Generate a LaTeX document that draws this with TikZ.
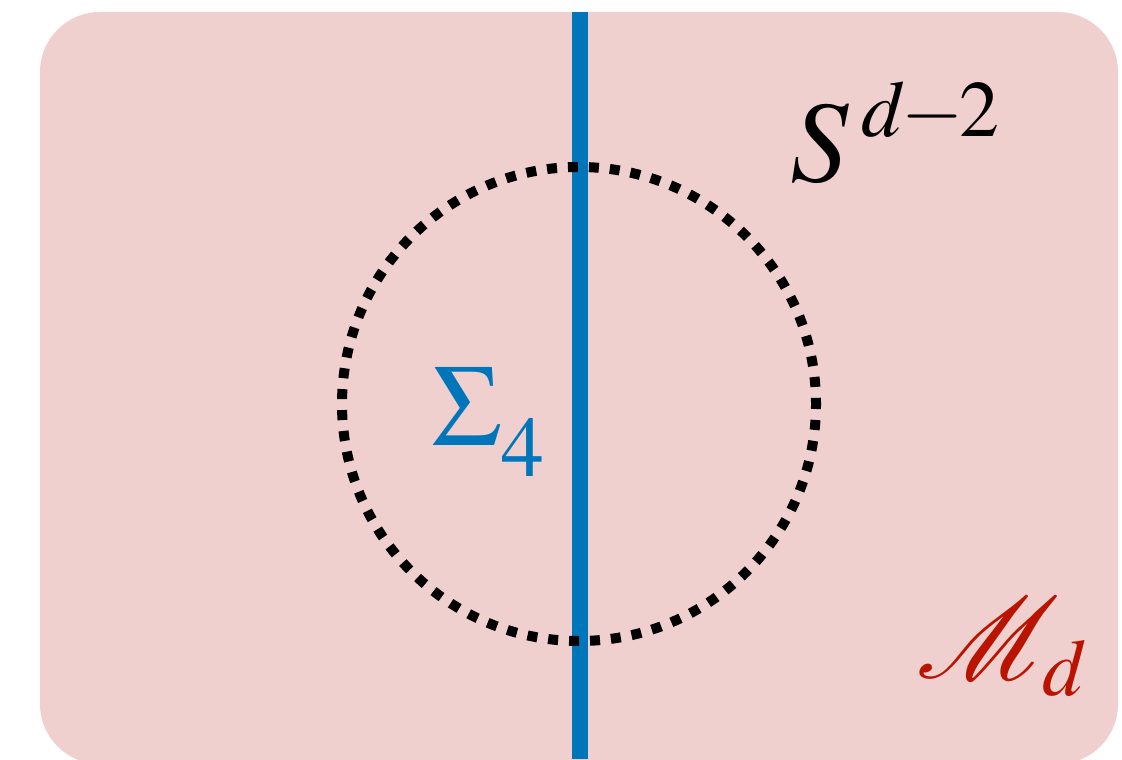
\documentclass[tikz,border=0pt]{standalone}
\usepackage{mathptmx}
\usepackage{mathrsfs}
\definecolor{bulkpink}{RGB}{240,208,206}
\definecolor{defblue}{RGB}{0,118,186}
\definecolor{mfdred}{RGB}{185,20,0}
\begin{document}
\begin{tikzpicture}[x=0.5pt, y=-0.5pt,
    bulk/.style={fill=bulkpink, draw=none, rounded corners=30pt},
    defect/.style={draw=defblue, line width=8pt},
    sphere/.style={draw=black, line width=5pt, dash pattern=on 5pt off 5.48pt, dash phase=2.5pt},
    lbl/.style={inner sep=0pt, font=\fontsize{58}{60}\selectfont}
]
    \useasboundingbox (0,0) rectangle (1122,759);
    % background manifold
    \fill[bulk] (40,12) rectangle (1118,764);
    % codimension defect
    \coordinate (deftop) at (579.5,12);
    \coordinate (defbot) at (579.5,759);
    \draw[defect] (deftop) -- (defbot);
    % linking sphere
    \coordinate (centre) at (579,404);
    \draw[sphere] (centre) circle[radius=237];
    % labels
    \node[lbl, anchor=base west] (sphlbl) at (790,182)
        {$S^{\kern6pt\raisebox{1.5pt}{\scalebox{0.93}{$\scriptstyle d\kern-2pt-\kern-2pt2$}}}$};
    \node[lbl, text=defblue, anchor=base west] (deflbl) at (432,445) {$\Sigma_{\raisebox{-7pt}{$\scriptstyle 4$}}$};
    \node[lbl, font=\fontsize{24.88}{26}\selectfont, scale=2.331, text=mfdred, anchor=base west] (mfdlbl) at (916,678) {$\mathscr{M}_d$};
\end{tikzpicture}
\end{document}
